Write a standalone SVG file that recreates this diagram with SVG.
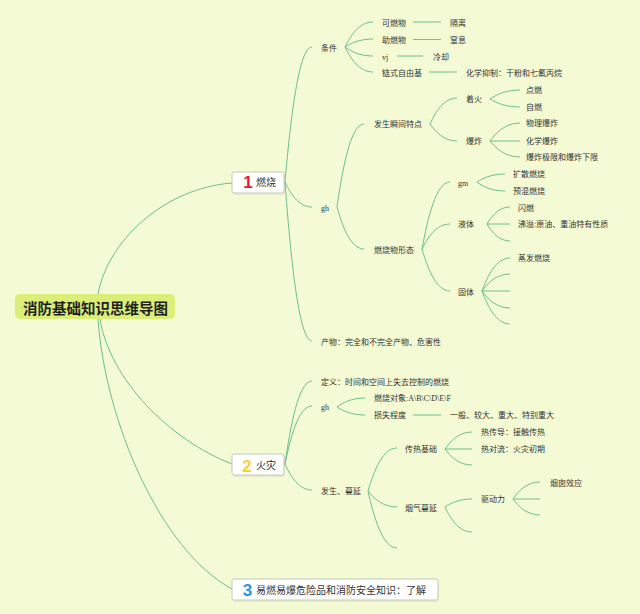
<svg xmlns="http://www.w3.org/2000/svg" width="640" height="614" viewBox="0 0 640 614">
<style>
.bg{fill:#f4fbd4}
.ln{fill:none;stroke:#6dbf8b;stroke-width:1}
.lbl{font-family:"Liberation Serif","Noto Sans CJK SC",serif;font-size:8px;fill:#333}
.box{fill:#ffffff;stroke:#c4c9c0;stroke-width:1}
.sh{fill:#000;opacity:0.06}
.bt{font-family:"Noto Sans CJK SC",sans-serif;font-size:10px;fill:#333}
.num{font-family:"Liberation Sans",sans-serif;font-weight:bold;font-size:17px;text-anchor:middle}
</style>
<rect class="bg" x="0" y="0" width="640" height="614"/>
<g id="connectors">
<path class="ln" d="M98,294 C108,240 165,188 232,183"/>
<path class="ln" d="M100,319 C110,380 170,440 232,464"/>
<path class="ln" d="M98,319 C105,420 160,550 232,589"/>
<path class="ln" d="M285,182 C290.4,121.25 298.5,47 312,47"/>
<path class="ln" d="M285,182 C290.4,193.25 298.5,207 312,207"/>
<path class="ln" d="M285,182 C290.4,253.6 298.5,341 312,341"/>
<path class="ln" d="M345,47 C350.6,35.75 359,22 373,22"/>
<path class="ln" d="M345,47 C350.6,43.4 359,39 373,39"/>
<path class="ln" d="M345,47 C350.6,51.05 359,56 373,56"/>
<path class="ln" d="M345,47 C350.6,58.25 359,72 373,72"/>
<path class="ln" d="M413,22 H441"/>
<path class="ln" d="M413,39.5 H441"/>
<path class="ln" d="M397,56 H423"/>
<path class="ln" d="M429,72 H457"/>
<path class="ln" d="M337,207 C342.4,169.65 350.5,124 364,124"/>
<path class="ln" d="M337,207 C342.4,225.9 350.5,249 364,249"/>
<path class="ln" d="M430,124 C435.4,112.3 443.5,98 457,98"/>
<path class="ln" d="M430,124 C435.4,131.65 443.5,141 457,141"/>
<path class="ln" d="M490,99 C496,94.95 505,90 520,90"/>
<path class="ln" d="M490,99 C496,102.6 505,107 520,107"/>
<path class="ln" d="M490,141 C496,132.9 505,123 520,123"/>
<path class="ln" d="M490,141 H520"/>
<path class="ln" d="M490,141 C496,148.2 505,157 520,157"/>
<path class="ln" d="M422,249 C427.6,218.85 436,182 450,182"/>
<path class="ln" d="M422,249 C427.6,237.75 436,224 450,224"/>
<path class="ln" d="M422,249 C427.6,267.9 436,291 450,291"/>
<path class="ln" d="M477,182 C482.6,178.4 491,174 505,174"/>
<path class="ln" d="M477,182 C482.6,186.05 491,191 505,191"/>
<path class="ln" d="M487,224 C491.6,216.35 498.5,207 510,207"/>
<path class="ln" d="M487,224 H510"/>
<path class="ln" d="M487,224 C491.6,231.65 498.5,241 510,241"/>
<path class="ln" d="M482,291 C487.6,276.15 496,258 510,258"/>
<path class="ln" d="M482,291 C487.6,283.35 496,274 510,274"/>
<path class="ln" d="M482,291 H510"/>
<path class="ln" d="M482,291 C487.6,298.65 496,308 510,308"/>
<path class="ln" d="M482,291 C487.6,305.85 496,324 510,324"/>
<path class="ln" d="M285,464 C290.4,426.65 298.5,381 312,381"/>
<path class="ln" d="M285,464 C290.4,437.9 298.5,406 312,406"/>
<path class="ln" d="M285,464 C290.4,475.7 298.5,490 312,490"/>
<path class="ln" d="M337,407 C342.6,402.95 351,398 365,398"/>
<path class="ln" d="M337,407 C342.6,410.6 351,415 365,415"/>
<path class="ln" d="M413,415 H441"/>
<path class="ln" d="M368,491 C373.8,471.65 382.5,448 397,448"/>
<path class="ln" d="M368,491 C373.8,498.2 382.5,507 397,507"/>
<path class="ln" d="M368,491 C373.8,516.65 382.5,548 397,548"/>
<path class="ln" d="M445,449 C450.4,441.35 458.5,432 472,432"/>
<path class="ln" d="M445,449 H472"/>
<path class="ln" d="M445,449 C450.4,456.2 458.5,465 472,465"/>
<path class="ln" d="M445,507 C450.4,503.4 458.5,499 472,499"/>
<path class="ln" d="M445,507 C450.4,518.25 458.5,532 472,532"/>
<path class="ln" d="M513,499 C518.4,491.35 526.5,482 540,482"/>
<path class="ln" d="M513,499 H540"/>
<path class="ln" d="M513,499 C518.4,506.2 526.5,515 540,515"/>
</g>
<g id="root">
<rect x="15" y="294" width="160" height="25" rx="5" fill="#daee78"/>
<text x="95.5" y="313.5" text-anchor="middle" font-family="Noto Sans CJK SC, sans-serif" font-weight="bold" font-size="14.5" fill="#1e1e1e">消防基础知识思维导图</text>
</g>
<g id="topic1">
<rect class="sh" x="233" y="174" width="52" height="21" rx="2"/>
<rect class="box" x="232" y="172" width="52" height="21" rx="2"/>
<text class="num" x="248" y="188" fill="#e3183b">1</text>
<text class="bt" x="256" y="186">燃烧</text>
</g>
<g id="topic2">
<rect class="sh" x="233" y="456" width="52" height="21" rx="2"/>
<rect class="box" x="232" y="454" width="52" height="21" rx="2"/>
<text class="num" x="247" y="471.5" fill="#f3cf3a">2</text>
<text class="bt" x="256" y="469">火灾</text>
</g>
<g id="topic3">
<rect class="sh" x="233" y="581" width="206" height="21" rx="2"/>
<rect class="box" x="232" y="579" width="206" height="21" rx="2"/>
<text class="num" x="247.5" y="596" fill="#2a96dc">3</text>
<text class="bt" x="256" y="594">易燃易爆危险品和消防安全知识：了解</text>
</g>
<g id="n-tiaojian"><text class="lbl" x="321" y="51">条件</text></g>
<g id="n-kerwu"><text class="lbl" x="382" y="25.5">可燃物</text></g>
<g id="n-geli"><text class="lbl" x="450" y="25.5">隔离</text></g>
<g id="n-zhuranwu"><text class="lbl" x="382" y="43">助燃物</text></g>
<g id="n-zhixi"><text class="lbl" x="450" y="43">窒息</text></g>
<g id="n-vj"><text class="lbl" x="382" y="59.5">vj</text></g>
<g id="n-lengque"><text class="lbl" x="433" y="59.5">冷却</text></g>
<g id="n-lianshi"><text class="lbl" x="382" y="75.5">链式自由基</text></g>
<g id="n-huaxue"><text class="lbl" x="466" y="75.5">化学抑制：干粉和七氟丙烷</text></g>
<g id="n-gh1"><text class="lbl" x="321" y="211">gh</text></g>
<g id="n-fasheng"><text class="lbl" x="374" y="127">发生瞬间特点</text></g>
<g id="n-zhaohuo"><text class="lbl" x="466" y="102">着火</text></g>
<g id="n-dianran"><text class="lbl" x="526" y="93">点燃</text></g>
<g id="n-ziran"><text class="lbl" x="526" y="110">自燃</text></g>
<g id="n-baozha"><text class="lbl" x="466" y="144">爆炸</text></g>
<g id="n-wuli"><text class="lbl" x="526" y="126">物理爆炸</text></g>
<g id="n-huaxuebz"><text class="lbl" x="526" y="143.5">化学爆炸</text></g>
<g id="n-jixian"><text class="lbl" x="526" y="160">爆炸极限和爆炸下限</text></g>
<g id="n-xingtai"><text class="lbl" x="374" y="253">燃烧物形态</text></g>
<g id="n-gm"><text class="lbl" x="458" y="186">gm</text></g>
<g id="n-kuosan"><text class="lbl" x="513" y="177">扩散燃烧</text></g>
<g id="n-yuhun"><text class="lbl" x="513" y="194">预混燃烧</text></g>
<g id="n-yeti"><text class="lbl" x="458" y="227">液体</text></g>
<g id="n-shanran"><text class="lbl" x="518" y="211">闪燃</text></g>
<g id="n-feiyi"><text class="lbl" x="518" y="227">沸溢:原油、重油特有性质</text></g>
<g id="n-guti"><text class="lbl" x="458" y="294.5">固体</text></g>
<g id="n-zhengfa"><text class="lbl" x="518" y="261">蒸发燃烧</text></g>
<g id="n-chanwu"><text class="lbl" x="321" y="344.5">产物：完全和不完全产物、危害性</text></g>
<g id="n-dingyi"><text class="lbl" x="321" y="384.5">定义：时间和空间上失去控制的燃烧</text></g>
<g id="n-gh2"><text class="lbl" x="321" y="410">gh</text></g>
<g id="n-duixiang"><text class="lbl" x="374" y="401">燃烧对象:A\B\C\D\E\F</text></g>
<g id="n-sunshi"><text class="lbl" x="374" y="418">损失程度</text></g>
<g id="n-dengji"><text class="lbl" x="450" y="418">一般、较大、重大、特别重大</text></g>
<g id="n-fsmy"><text class="lbl" x="321" y="494">发生、蔓延</text></g>
<g id="n-chuanre"><text class="lbl" x="405" y="452">传热基础</text></g>
<g id="n-rechuandao"><text class="lbl" x="481" y="434.5">热传导：接触传热</text></g>
<g id="n-reduiliu"><text class="lbl" x="481" y="452">热对流：火灾初期</text></g>
<g id="n-yanqi"><text class="lbl" x="405" y="510.5">烟气蔓延</text></g>
<g id="n-qudong"><text class="lbl" x="481" y="502">驱动力</text></g>
<g id="n-yancong"><text class="lbl" x="550" y="485.5">烟囱效应</text></g>
</svg>
